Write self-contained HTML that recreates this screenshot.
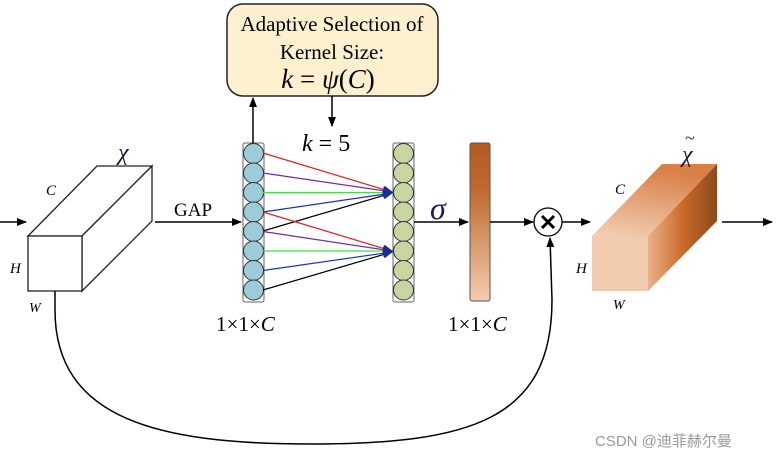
<!DOCTYPE html>
<html><head><meta charset="utf-8"><style>body{margin:0;background:#fff}svg{display:block}</style></head><body>
<svg width="780" height="459" viewBox="0 0 780 459" xmlns="http://www.w3.org/2000/svg" font-family="Liberation Serif, serif">
<defs>
<marker id="a" markerWidth="10" markerHeight="8" refX="9" refY="4" orient="auto" markerUnits="userSpaceOnUse"><path d="M0,0 L10,4 L0,8 z" fill="#000"/></marker>
<marker id="ab" markerWidth="10" markerHeight="8" refX="9" refY="4" orient="auto" markerUnits="userSpaceOnUse"><path d="M0,0 L10,4 L0,8 z" fill="#1a2a9a"/></marker>
<linearGradient id="bar" x1="0" y1="0" x2="0" y2="1"><stop offset="0" stop-color="#b35a22"/><stop offset="0.3" stop-color="#bf6a30"/><stop offset="1" stop-color="#f2cdb0"/></linearGradient>
<linearGradient id="top" x1="0" y1="1" x2="0.3" y2="0"><stop offset="0" stop-color="#f3d0b5"/><stop offset="1" stop-color="#d88048"/></linearGradient>
<linearGradient id="side" x1="0" y1="0" x2="1" y2="0"><stop offset="0" stop-color="#eab28a"/><stop offset="0.5" stop-color="#cc6a2a"/><stop offset="1" stop-color="#8a4a1e"/></linearGradient>
</defs>
<line x1="0" y1="222" x2="26" y2="222" stroke="#000" stroke-width="1.5" marker-end="url(#a)"/>
<g fill="#fff" stroke="#222" stroke-width="1.3">
<polygon points="28,236 97,166 152,166 82,236"/>
<polygon points="82,236 152,166 152,221 82,291"/>
<rect x="28" y="236" width="54" height="55"/>
</g>
<text x="118" y="160" font-size="24" font-style="italic" fill="#1a1a3a">χ</text>
<text x="46" y="195" font-size="15" font-style="italic">C</text>
<text x="10" y="273" font-size="15" font-style="italic">H</text>
<text x="29" y="312" font-size="14" font-style="italic">W</text>
<line x1="155" y1="222" x2="241" y2="222" stroke="#000" stroke-width="1.5" marker-end="url(#a)"/>
<text x="174" y="216" font-size="19">GAP</text>
<rect x="243" y="143" width="21" height="159" rx="2" fill="#fff" stroke="#666"/>
<rect x="393" y="143" width="21" height="159" rx="2" fill="#fff" stroke="#666"/>
<g stroke="#333" stroke-width="1">
<circle cx="253.5" cy="153.5" r="10" fill="#9ecbd9"/><circle cx="253.5" cy="173" r="10" fill="#9ecbd9"/><circle cx="253.5" cy="192.5" r="10" fill="#9ecbd9"/><circle cx="253.5" cy="212" r="10" fill="#9ecbd9"/><circle cx="253.5" cy="231.5" r="10" fill="#9ecbd9"/><circle cx="253.5" cy="251" r="10" fill="#9ecbd9"/><circle cx="253.5" cy="270.5" r="10" fill="#9ecbd9"/><circle cx="253.5" cy="290" r="10" fill="#9ecbd9"/>
<circle cx="403.5" cy="153.5" r="10" fill="#c7d6a0"/><circle cx="403.5" cy="173" r="10" fill="#c7d6a0"/><circle cx="403.5" cy="192.5" r="10" fill="#c7d6a0"/><circle cx="403.5" cy="212" r="10" fill="#c7d6a0"/><circle cx="403.5" cy="231.5" r="10" fill="#c7d6a0"/><circle cx="403.5" cy="251" r="10" fill="#c7d6a0"/><circle cx="403.5" cy="270.5" r="10" fill="#c7d6a0"/><circle cx="403.5" cy="290" r="10" fill="#c7d6a0"/>
</g>
<g stroke-width="1.2" fill="none">
<line x1="263" y1="153" x2="392" y2="192" stroke="#e82020" marker-end="url(#ab)"/>
<line x1="263" y1="173" x2="392" y2="192" stroke="#7030a0" marker-end="url(#ab)"/>
<line x1="263" y1="192.5" x2="392" y2="192.5" stroke="#40e040" marker-end="url(#ab)"/>
<line x1="263" y1="212" x2="392" y2="193" stroke="#1a30c0" marker-end="url(#ab)"/>
<line x1="263" y1="231" x2="392" y2="193" stroke="#000" marker-end="url(#ab)"/>
<line x1="263" y1="212" x2="392" y2="251" stroke="#e82020" marker-end="url(#ab)"/>
<line x1="263" y1="231.5" x2="392" y2="251" stroke="#7030a0" marker-end="url(#ab)"/>
<line x1="263" y1="251" x2="392" y2="251" stroke="#40e040" marker-end="url(#ab)"/>
<line x1="263" y1="270.5" x2="392" y2="252" stroke="#1a30c0" marker-end="url(#ab)"/>
<line x1="263" y1="290" x2="392" y2="252" stroke="#000" marker-end="url(#ab)"/>
</g>
<text x="216" y="331" font-size="21">1×1×<tspan font-style="italic">C</tspan></text>
<rect x="227" y="4" width="211" height="92" rx="16" fill="#fcf0cf" stroke="#222" stroke-width="1.5"/>
<text x="332" y="31" font-size="21" text-anchor="middle">Adaptive Selection of</text>
<text x="332" y="59" font-size="21" text-anchor="middle">Kernel Size:</text>
<text x="328" y="88" font-size="27" text-anchor="middle" font-style="italic">k <tspan font-style="normal">=</tspan> ψ<tspan font-style="normal">(</tspan>C<tspan font-style="normal">)</tspan></text>
<line x1="253" y1="143" x2="253" y2="98" stroke="#000" stroke-width="1.5" marker-end="url(#a)"/>
<line x1="332" y1="96" x2="332" y2="126" stroke="#000" stroke-width="1.5" marker-end="url(#a)"/>
<text x="302" y="151" font-size="24" font-style="italic">k <tspan font-style="normal">= 5</tspan></text>
<line x1="414" y1="222" x2="468" y2="222" stroke="#000" stroke-width="1.5" marker-end="url(#a)"/>
<text x="430" y="219" font-size="32" font-style="italic" fill="#1a1a5a">σ</text>
<rect x="470" y="143" width="20" height="158" rx="2" fill="url(#bar)" stroke="#555"/>
<text x="448" y="331" font-size="21">1×1×<tspan font-style="italic">C</tspan></text>
<line x1="490" y1="222" x2="533" y2="222" stroke="#000" stroke-width="1.5" marker-end="url(#a)"/>
<circle cx="548" cy="222" r="14" fill="#fff" stroke="#000" stroke-width="1.3"/>
<path d="M542,216 L554,228 M554,216 L542,228" stroke="#000" stroke-width="3"/>
<line x1="562" y1="222" x2="590" y2="222" stroke="#000" stroke-width="1.5" marker-end="url(#a)"/>
<path d="M55,291 L55,310 C55,420 160,444 310,444 C470,444 552,420 552,300 L550,238" fill="none" stroke="#000" stroke-width="1.5" marker-end="url(#a)"/>
<polygon points="592,236 662,164 717,164 648,236" fill="url(#top)"/>
<polygon points="648,236 717,164 717,221 648,291" fill="url(#side)"/>
<rect x="592" y="236" width="56" height="55" fill="#f1cbae"/>
<text x="682" y="162" font-size="24" font-style="italic" fill="#1a1a3a">χ</text>
<text x="685" y="144" font-size="18" fill="#1a1a3a">~</text>
<text x="615" y="194" font-size="15" font-style="italic">C</text>
<text x="576" y="273" font-size="15" font-style="italic">H</text>
<text x="613" y="309" font-size="14" font-style="italic">W</text>
<line x1="722" y1="222" x2="772" y2="222" stroke="#000" stroke-width="1.5" marker-end="url(#a)"/>
<text x="595" y="446" font-size="15" fill="#999" font-family="Liberation Sans, Noto Sans CJK SC, sans-serif">CSDN @迪菲赫尔曼</text>
</svg>
</body></html>
